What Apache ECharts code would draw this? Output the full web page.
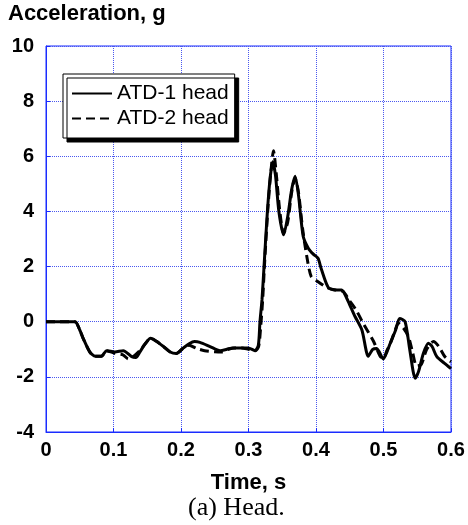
<!DOCTYPE html>
<html>
<head>
<meta charset="utf-8">
<script src="https://cdn.jsdelivr.net/npm/echarts@6/dist/echarts.min.js"></script>
<style>html,body{margin:0;padding:0;background:#fff;}#c{width:468px;height:525px;}</style>
</head>
<body>
<div id="c"></div>
<script>
var xTicks = [0, 0.1, 0.2, 0.3, 0.4, 0.5, 0.6];
var yTicks = [-4, -2, 0, 2, 4, 6, 8, 10];

var atd1Time = [0, 0.02, 0.043, 0.05, 0.055, 0.065, 0.073, 0.082, 0.09, 0.102, 0.1145, 0.127, 0.133, 0.139, 0.147, 0.155, 0.163, 0.174, 0.184, 0.193, 0.2035, 0.212, 0.22, 0.228, 0.243, 0.258, 0.268, 0.277, 0.29, 0.2997, 0.3096, 0.3146, 0.317, 0.32, 0.323, 0.328, 0.332, 0.336, 0.34, 0.345, 0.352, 0.358, 0.364, 0.369, 0.374, 0.381, 0.389, 0.396, 0.403, 0.408, 0.418, 0.428, 0.438, 0.4455, 0.452, 0.458, 0.468, 0.4775, 0.484, 0.49, 0.4997, 0.505, 0.51, 0.518, 0.524, 0.532, 0.539, 0.547, 0.552, 0.559, 0.5664, 0.572, 0.579, 0.59, 0.6];
var atd1Accel = [0, 0, 0, -0.3, -0.6, -1.1, -1.25, -1.25, -1.05, -1.1, -1.05, -1.27, -1.3, -1.1, -0.8, -0.6, -0.7, -0.9, -1.1, -1.15, -0.95, -0.8, -0.72, -0.75, -0.9, -1.05, -1.0, -0.95, -0.95, -0.95, -1.05, -0.85, 0, 0.8, 2, 4, 5.2, 5.8, 5.3, 4.0, 3.15, 3.8, 4.8, 5.28, 4.6, 3.1, 2.65, 2.45, 2.3, 1.9, 1.25, 1.15, 1.15, 0.85, 0.5, 0.18, -0.3, -1.25, -1.0, -0.97, -1.35, -1.1, -0.78, -0.3, 0.12, 0.0, -1.03, -2.05, -1.8, -1.15, -0.78, -0.9, -1.27, -1.5, -1.7];

var atd2Time = [0, 0.02, 0.043, 0.05, 0.055, 0.065, 0.073, 0.082, 0.09, 0.102, 0.114, 0.122, 0.13, 0.139, 0.147, 0.155, 0.163, 0.174, 0.184, 0.193, 0.2035, 0.212, 0.223, 0.235, 0.25, 0.26, 0.27, 0.28, 0.29, 0.3, 0.31, 0.315, 0.318, 0.321, 0.324, 0.329, 0.333, 0.337, 0.341, 0.346, 0.352, 0.358, 0.364, 0.369, 0.374, 0.38, 0.386, 0.393, 0.403, 0.412, 0.42, 0.43, 0.44, 0.45, 0.46, 0.47, 0.485, 0.495, 0.5, 0.505, 0.51, 0.516, 0.522, 0.53, 0.537, 0.543, 0.549, 0.556, 0.564, 0.574, 0.582, 0.591, 0.6];
var atd2Accel = [0, 0, 0, -0.3, -0.6, -1.1, -1.25, -1.25, -1.05, -1.15, -1.2, -1.35, -1.25, -1.05, -0.8, -0.6, -0.7, -0.9, -1.1, -1.15, -0.95, -0.85, -0.97, -1.05, -1.09, -1.1, -1.0, -0.95, -0.95, -1.0, -1.05, -0.9, -0.2, 0.8, 2.2, 4.2, 5.4, 6.2, 5.4, 4.1, 3.2, 3.6, 4.7, 5.2, 4.7, 3.4, 2.42, 1.63, 1.45, 1.3, 1.2, 1.15, 1.1, 0.75, 0.4, -0.06, -0.7, -1.25, -1.33, -1.05, -0.8, -0.4, -0.06, -0.25, -0.55, -1.1, -1.6, -1.55, -1.0, -0.72, -0.9, -1.27, -1.45];

function pairs(t, v) { return t.map(function (x, i) { return [x, v[i]]; }); }

var blue = '#1a2cff';
var gridBlue = '#4a58f0';
var chart = echarts.init(document.getElementById('c'));
chart.setOption({
  animation: false,
  backgroundColor: '#fff',
  title: [
    { text: 'Acceleration, g', left: 8, top: 3, padding: 0,
      textStyle: { fontFamily: 'Liberation Sans', fontSize: 22, fontWeight: 'bold', color: '#000' } },
    { text: '(a) Head.', left: 188, top: 495, padding: 0,
      textStyle: { fontFamily: 'Liberation Serif', fontSize: 26, fontWeight: 'normal', color: '#000' } }
  ],
  grid: { left: 46, right: 17, top: 46, bottom: 93, show: true, borderColor: blue, borderWidth: 1, backgroundColor: 'transparent' },
  legend: {
    orient: 'vertical', left: 63, top: 74,
    backgroundColor: '#fff', borderColor: '#000', borderWidth: 1, borderRadius: 0,
    shadowColor: '#000', shadowBlur: 0, shadowOffsetX: 4, shadowOffsetY: 4,
    padding: [7, 6, 7, 8], itemWidth: 40, itemHeight: 14, itemGap: 0,
    itemStyle: { opacity: 0 },
    textStyle: { fontFamily: 'Liberation Sans', fontSize: 21, color: '#000', lineHeight: 25 },
    data: ['ATD-1 head', 'ATD-2 head']
  },
  xAxis: {
    type: 'value', min: 0, max: 0.6, interval: 0.1,
    name: 'Time, s', nameLocation: 'middle', nameGap: 40,
    nameTextStyle: { fontFamily: 'Liberation Sans', fontSize: 22, fontWeight: 'bold', color: '#000' },
    axisLine: { show: true, onZero: false, lineStyle: { color: blue, width: 1 } },
    axisTick: { show: true, inside: true, length: 4, lineStyle: { color: blue } },
    axisLabel: { fontFamily: 'Liberation Sans', fontSize: 20, fontWeight: 'bold', color: '#000', margin: 8,
      formatter: function (v) { return String(Math.round(v * 10) / 10); } },
    splitLine: { show: true, lineStyle: { color: gridBlue, type: 'dotted', width: 1 } }
  },
  yAxis: {
    type: 'value', min: -4, max: 10, interval: 2,
    axisLine: { show: true, onZero: false, lineStyle: { color: blue, width: 1 } },
    axisTick: { show: true, inside: true, length: 4, lineStyle: { color: blue } },
    axisLabel: { fontFamily: 'Liberation Sans', fontSize: 20, fontWeight: 'bold', color: '#000', margin: 12, padding: [0, 0, 8, 0] },
    splitLine: { show: true, lineStyle: { color: gridBlue, type: 'dotted', width: 1 } }
  },
  series: [
    { name: 'ATD-2 head', type: 'line', data: pairs(atd2Time, atd2Accel), symbol: 'none', smooth: 0.25,
      lineStyle: { color: '#000', width: 3, type: [9, 5] }, itemStyle: { color: '#000' } },
    { name: 'ATD-1 head', type: 'line', data: pairs(atd1Time, atd1Accel), symbol: 'none', smooth: 0.25,
      lineStyle: { color: '#000', width: 3, type: 'solid' }, itemStyle: { color: '#000' } }
  ]
});
</script>
</body>
</html>
